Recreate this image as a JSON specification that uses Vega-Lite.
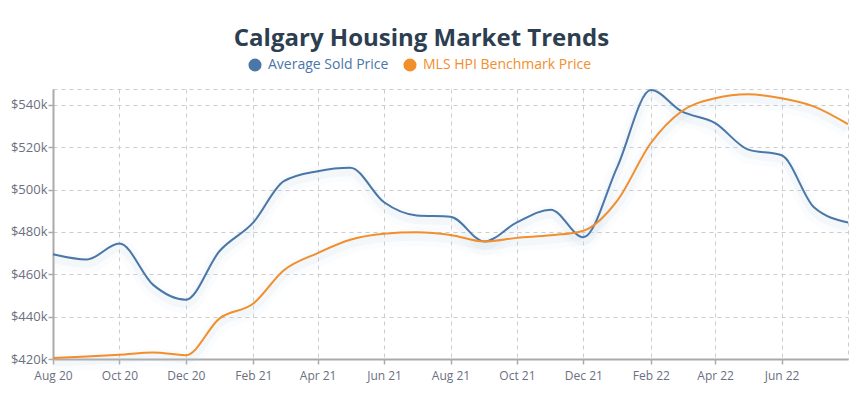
{
  "$schema": "https://vega.github.io/schema/vega-lite/v6.json",
  "autosize": "none",
  "width": 795,
  "height": 270,
  "padding": {"left": 53, "top": 89, "right": 7, "bottom": 39},
  "background": "white",
  "title": {
    "text": "Calgary Housing Market Trends",
    "anchor": "middle",
    "frame": "group",
    "fontSize": 24,
    "font": "Open Sans",
    "fontWeight": "bold",
    "color": "#2c3e50",
    "dx": -29,
    "offset": 7
  },
  "config": {
    "font": "Open Sans",
    "view": {"stroke": "#cccccc", "strokeDash": [4, 4], "strokeWidth": 1}
  },
  "data": {
    "values": [
      {"date": "2020-08-01", "series": "Average Sold Price", "price": 469500},
      {"date": "2020-09-01", "series": "Average Sold Price", "price": 467000},
      {"date": "2020-10-01", "series": "Average Sold Price", "price": 474500},
      {"date": "2020-11-01", "series": "Average Sold Price", "price": 455000},
      {"date": "2020-12-01", "series": "Average Sold Price", "price": 448000},
      {"date": "2021-01-01", "series": "Average Sold Price", "price": 471000},
      {"date": "2021-02-01", "series": "Average Sold Price", "price": 484500},
      {"date": "2021-03-01", "series": "Average Sold Price", "price": 504000},
      {"date": "2021-04-01", "series": "Average Sold Price", "price": 508700},
      {"date": "2021-05-01", "series": "Average Sold Price", "price": 510300},
      {"date": "2021-06-01", "series": "Average Sold Price", "price": 494000},
      {"date": "2021-07-01", "series": "Average Sold Price", "price": 487800},
      {"date": "2021-08-01", "series": "Average Sold Price", "price": 487200},
      {"date": "2021-09-01", "series": "Average Sold Price", "price": 475500},
      {"date": "2021-10-01", "series": "Average Sold Price", "price": 484500},
      {"date": "2021-11-01", "series": "Average Sold Price", "price": 490500},
      {"date": "2021-12-01", "series": "Average Sold Price", "price": 477500},
      {"date": "2022-01-01", "series": "Average Sold Price", "price": 510500},
      {"date": "2022-02-01", "series": "Average Sold Price", "price": 547000},
      {"date": "2022-03-01", "series": "Average Sold Price", "price": 537000},
      {"date": "2022-04-01", "series": "Average Sold Price", "price": 531400},
      {"date": "2022-05-01", "series": "Average Sold Price", "price": 519000},
      {"date": "2022-06-01", "series": "Average Sold Price", "price": 516200},
      {"date": "2022-07-01", "series": "Average Sold Price", "price": 491500},
      {"date": "2022-08-01", "series": "Average Sold Price", "price": 484500},
      {"date": "2020-08-01", "series": "MLS HPI Benchmark Price", "price": 420500},
      {"date": "2020-09-01", "series": "MLS HPI Benchmark Price", "price": 421200},
      {"date": "2020-10-01", "series": "MLS HPI Benchmark Price", "price": 422000},
      {"date": "2020-11-01", "series": "MLS HPI Benchmark Price", "price": 423100},
      {"date": "2020-12-01", "series": "MLS HPI Benchmark Price", "price": 421800},
      {"date": "2021-01-01", "series": "MLS HPI Benchmark Price", "price": 439200},
      {"date": "2021-02-01", "series": "MLS HPI Benchmark Price", "price": 446200},
      {"date": "2021-03-01", "series": "MLS HPI Benchmark Price", "price": 461900},
      {"date": "2021-04-01", "series": "MLS HPI Benchmark Price", "price": 470000},
      {"date": "2021-05-01", "series": "MLS HPI Benchmark Price", "price": 476300},
      {"date": "2021-06-01", "series": "MLS HPI Benchmark Price", "price": 479100},
      {"date": "2021-07-01", "series": "MLS HPI Benchmark Price", "price": 479800},
      {"date": "2021-08-01", "series": "MLS HPI Benchmark Price", "price": 478600},
      {"date": "2021-09-01", "series": "MLS HPI Benchmark Price", "price": 475500},
      {"date": "2021-10-01", "series": "MLS HPI Benchmark Price", "price": 477200},
      {"date": "2021-11-01", "series": "MLS HPI Benchmark Price", "price": 478400},
      {"date": "2021-12-01", "series": "MLS HPI Benchmark Price", "price": 480600},
      {"date": "2022-01-01", "series": "MLS HPI Benchmark Price", "price": 494700},
      {"date": "2022-02-01", "series": "MLS HPI Benchmark Price", "price": 522000},
      {"date": "2022-03-01", "series": "MLS HPI Benchmark Price", "price": 536900},
      {"date": "2022-04-01", "series": "MLS HPI Benchmark Price", "price": 543100},
      {"date": "2022-05-01", "series": "MLS HPI Benchmark Price", "price": 545000},
      {"date": "2022-06-01", "series": "MLS HPI Benchmark Price", "price": 543100},
      {"date": "2022-07-01", "series": "MLS HPI Benchmark Price", "price": 539200},
      {"date": "2022-08-01", "series": "MLS HPI Benchmark Price", "price": 530900}
    ]
  },
  "encoding": {
    "x": {
      "field": "date",
      "type": "temporal",
      "scale": {"type": "utc", "nice": false},
      "axis": {
        "title": null,
        "format": "%b %y",
        "values": [
          {"year": 2020, "month": 8, "date": 1, "utc": true},
          {"year": 2020, "month": 10, "date": 1, "utc": true},
          {"year": 2020, "month": 12, "date": 1, "utc": true},
          {"year": 2021, "month": 2, "date": 1, "utc": true},
          {"year": 2021, "month": 4, "date": 1, "utc": true},
          {"year": 2021, "month": 6, "date": 1, "utc": true},
          {"year": 2021, "month": 8, "date": 1, "utc": true},
          {"year": 2021, "month": 10, "date": 1, "utc": true},
          {"year": 2021, "month": 12, "date": 1, "utc": true},
          {"year": 2022, "month": 2, "date": 1, "utc": true},
          {"year": 2022, "month": 4, "date": 1, "utc": true},
          {"year": 2022, "month": 6, "date": 1, "utc": true}
        ],
        "labelFont": "Open Sans",
        "labelFontSize": 12,
        "labelColor": "#6b6f80",
        "labelPadding": 6,
        "domainColor": "#aaaaaa",
        "domainWidth": 2,
        "tickColor": "#aaaaaa",
        "tickSize": 5,
        "tickWidth": 1.5,
        "grid": true,
        "gridColor": "#cccccc",
        "gridDash": [4, 4],
        "labelFlush": false
      }
    },
    "y": {
      "field": "price",
      "type": "quantitative",
      "scale": {"domain": [420000, 547500], "nice": false, "zero": false},
      "axis": {
        "title": null,
        "format": "$.3~s",
        "values": [420000, 440000, 460000, 480000, 500000, 520000, 540000],
        "labelFont": "Open Sans",
        "labelFontSize": 13,
        "labelColor": "#6b6f80",
        "labelPadding": 1,
        "domainColor": "#aaaaaa",
        "domainWidth": 2,
        "tickColor": "#aaaaaa",
        "tickSize": 5,
        "tickWidth": 1.5,
        "grid": true,
        "gridColor": "#cccccc",
        "gridDash": [4, 4]
      }
    }
  },
  "layer": [
    {
      "mark": {"type": "line", "interpolate": "monotone", "strokeWidth": 18, "color": "#b5d2e0", "opacity": 0.06, "yOffset": 5},
      "encoding": {"detail": {"field": "series"}}
    },
    {
      "mark": {"type": "line", "interpolate": "monotone", "strokeWidth": 9, "color": "#b5d2e0", "opacity": 0.1, "yOffset": 4},
      "encoding": {"detail": {"field": "series"}}
    },
    {
      "mark": {"type": "line", "interpolate": "monotone", "strokeWidth": 2},
      "encoding": {
        "color": {
          "field": "series",
          "type": "nominal",
          "scale": {"domain": ["Average Sold Price", "MLS HPI Benchmark Price"], "range": ["#4a76a8", "#f28e2b"]},
          "legend": {
            "title": null,
            "orient": "none",
            "direction": "horizontal",
            "legendX": 195,
            "legendY": -31,
            "symbolType": "circle",
            "symbolSize": 170,
            "symbolStrokeWidth": 0,
            "symbolFillColor": {"expr": "datum.value == 'Average Sold Price' ? '#4a76a8' : '#f28e2b'"},
            "labelColor": {"expr": "datum.value == 'Average Sold Price' ? '#4a76a8' : '#f28e2b'"},
            "labelFont": "Open Sans",
            "labelFontSize": 14,
            "labelOffset": 6,
            "labelLimit": 400,
            "columnPadding": 14
          }
        }
      }
    }
  ]
}
